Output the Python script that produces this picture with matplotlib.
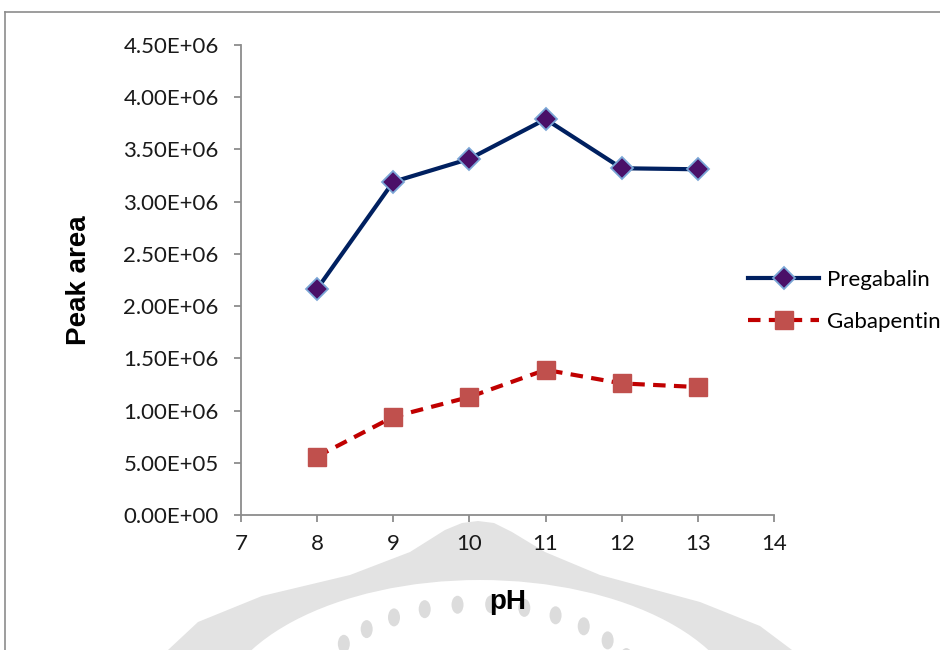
import numpy as np
import matplotlib.pyplot as plt
from matplotlib.lines import Line2D
from matplotlib.patches import Polygon, Ellipse

ph = [8, 9, 10, 11, 12, 13]
pregabalin = [2.165e6, 3.19e6, 3.41e6, 3.79e6, 3.32e6, 3.31e6]
gabapentin = [0.56e6, 0.94e6, 1.13e6, 1.39e6, 1.26e6, 1.225e6]
yticks = [0, 0.5e6, 1.0e6, 1.5e6, 2.0e6, 2.5e6, 3.0e6, 3.5e6, 4.0e6, 4.5e6]
ytick_labels = ["0.00E+00", "5.00E+05", "1.00E+06", "1.50E+06", "2.00E+06",
                "2.50E+06", "3.00E+06", "3.50E+06", "4.00E+06", "4.50E+06"]

W, H = 940, 650


def px(x, y):
    # pixel position (from top left) -> figure fraction
    return (x / W, 1 - y / H)


fig = plt.figure(figsize=(9.4, 6.5), dpi=100)
ax = fig.add_axes([241 / W, 1 - 515 / H, 533 / W, 470 / H])
ax.set_facecolor("none")
ax.set_zorder(2)

# faint watermark in the background
wm = "#e3e3e3"
outline = [(445, 530), (462, 523), (478, 521), (494, 523), (512, 532), (545, 552),
           (600, 575), (700, 602), (760, 626), (792, 650),
           (168, 650), (198, 622), (262, 596), (350, 575), (410, 552)]
fig.patches.append(Polygon([px(*p) for p in outline], closed=True, transform=fig.transFigure,
                           facecolor=wm, edgecolor="none", zorder=0))
fig.patches.append(Ellipse(px(480, 722), 530 / W, 284 / H, transform=fig.transFigure,
                           facecolor="white", edgecolor="none", zorder=0.1))
for a in np.arange(28, 156, 11.5):
    cx = 478 + 168 * np.cos(np.radians(a))
    cy = 704 - 100 * np.sin(np.radians(a))
    fig.patches.append(Ellipse(px(cx, cy), 12 / W, 18 / H, transform=fig.transFigure,
                               facecolor="#dcdcdc", edgecolor="none", zorder=0.2))

# outer frame of the chart area
fig.add_artist(Line2D([5 / W, 5 / W], [0, 1 - 12 / H], transform=fig.transFigure,
                      color="#8c8c8c", lw=1.2))
fig.add_artist(Line2D([5 / W, 1], [1 - 12 / H, 1 - 12 / H], transform=fig.transFigure,
                      color="#8c8c8c", lw=1.2))

ax.plot(ph, pregabalin, color="#002060", lw=3.0, marker="D", ms=11,
        markerfacecolor="#4a1068", markeredgecolor="#7aa6d6", markeredgewidth=1.3,
        label="Pregabalin")
ax.plot(ph, gabapentin, color="#c00000", lw=3.0, ls=(0, (3, 2)), marker="s", ms=13,
        markerfacecolor="#c0504d", markeredgecolor="#c0504d",
        label="Gabapentin")

ax.set_xlim(7, 14)
ax.set_ylim(0, 4.5e6)
ax.set_xticks(range(7, 15))
ax.set_yticks(yticks)
ax.set_yticklabels(ytick_labels)

for s in ["top", "right"]:
    ax.spines[s].set_visible(False)
for s in ["left", "bottom"]:
    ax.spines[s].set_color("#8c8c8c")
    ax.spines[s].set_linewidth(1.3)
ax.tick_params(direction="out", length=5, width=1.3, color="#8c8c8c",
               labelsize=16, labelcolor="#1a1a1a")
ax.tick_params(axis="y", pad=11)
ax.tick_params(axis="x", pad=9)
for lab in ax.get_xticklabels() + ax.get_yticklabels():
    lab.set_fontfamily("Lato")

ax.set_ylabel("Peak area", fontsize=20, fontweight="bold", family="Liberation Sans")
ax.yaxis.set_label_coords(-0.28, 0.5)
ax.set_xlabel("pH", fontsize=20, fontweight="bold", family="Liberation Sans")
ax.xaxis.set_label_coords(0.5, -0.158)

ax.legend(loc="center left", bbox_to_anchor=px(728, 301), bbox_transform=fig.transFigure,
          frameon=False, handlelength=3.2, handletextpad=0.35, labelspacing=1.0,
          prop={"family": "Lato", "size": 16})

fig.savefig("out.png", dpi=100)
